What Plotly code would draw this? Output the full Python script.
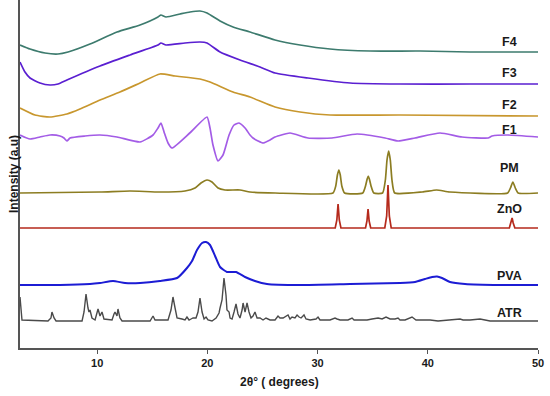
import plotly.graph_objects as go

# ---- data (2theta in degrees, intensity in arbitrary stacked units) ----
f4_x = [3.00, 3.91, 5.27, 6.45, 7.36, 9.35, 11.80, 13.89, 15.52, 15.79, 16.25, 17.52, 18.43, 19.33, 19.97,
        21.15, 22.33, 23.87, 26.14, 28.41, 31.13, 34.76, 39.30, 43.83, 50.00]
f4_y = [303, 299, 295, 294, 296, 304, 316, 323, 331, 333, 331, 334, 336, 337, 335,
        327, 321, 316, 308, 303, 299, 297, 297, 296, 296]

f3_x = [3.00, 3.45, 3.91, 4.81, 5.72, 6.45, 7.26, 10.26, 12.98, 15.52, 15.79, 16.25, 17.97, 19.33, 19.97,
        21.15, 22.96, 24.78, 26.14, 29.13, 32.95, 37.48, 43.83, 50.00]
f3_y = [286, 276, 270, 265, 263, 264, 268, 282, 293, 303, 305, 303, 305, 306, 305,
        296, 288, 281, 275, 270, 265, 264, 264, 264]

f2_x = [3.00, 4.36, 5.72, 7.26, 8.44, 10.26, 12.07, 13.89, 15.70, 17.07, 19.33, 20.24, 22.33, 23.87,
        26.14, 28.41, 31.13, 37.48, 50.00]
f2_y = [240, 233, 231, 234, 239, 248, 256, 265, 274, 272, 269, 266, 256, 251,
        241, 236, 233, 233, 232]

f1_x = [3.00, 3.91, 4.81, 5.72, 6.63, 6.99, 7.26, 7.54, 8.90, 10.26, 11.80, 13.89, 15.07, 15.52, 15.79,
        16.07, 16.43, 16.79, 18.40, 19.97, 20.24, 20.51, 20.97, 21.42, 21.97, 22.42, 22.87, 23.42, 23.87,
        24.14, 24.60, 25.05, 25.69, 26.14, 27.50, 29.13, 31.31, 33.58, 36.12, 37.30, 38.84, 41.11,
        43.11, 45.47, 45.83, 47.28, 50.00]
f1_y = [213, 209, 211, 213, 212, 210, 207, 210, 212, 213, 211, 206, 213, 220, 225,
        216, 205, 200, 215, 231, 220, 203, 187, 193, 213, 223, 225, 220, 213,
        210, 207, 205, 208, 211, 215, 210, 210, 214, 210, 207, 210, 215,
        211, 210, 212, 213, 211]

pm_x = [3.00, 10.26, 12.98, 15.70, 17.97, 18.88, 19.42, 19.97, 20.42, 20.97, 21.60, 22.96, 23.87, 26.14,
        31.40, 31.65, 31.80, 31.93, 32.06, 32.20, 32.45,
        34.10, 34.35, 34.50, 34.60, 34.70, 34.85, 35.10,
        35.90, 36.15, 36.30, 36.45, 36.60, 36.75, 37.00,
        39.50, 40.80, 42.00,
        47.25, 47.50, 47.72, 47.94, 48.20, 50.00]
pm_y = [155, 156, 157, 156, 157, 160, 165, 168, 166, 160, 158, 158, 156, 155,
        155, 162, 173, 178, 173, 162, 155,
        155, 162, 169, 172, 169, 162, 155,
        155, 168, 188, 197, 188, 168, 155,
        156, 158, 156,
        155, 160, 166, 160, 155, 155]

zno_x = [3.00, 31.60, 31.75, 31.86, 31.97, 32.12, 34.35, 34.48, 34.58, 34.68, 34.82,
         36.10, 36.27, 36.39, 36.51, 36.68, 47.40, 47.55, 47.65, 47.75, 47.90, 50.00]
zno_y = [120, 120, 128, 144, 128, 120, 120, 127, 139, 127, 120,
         120, 132, 163, 132, 120, 120, 125, 130, 125, 120, 120]

pva_x = [3.00, 6.63, 9.35, 10.26, 11.44, 12.53, 13.89, 15.70, 17.25, 18.15, 18.61, 19.06, 19.52, 19.88,
         20.24, 20.70, 21.15, 21.78, 22.60, 23.42, 24.32, 25.41, 28.41, 32.95, 37.48, 38.84, 39.75,
         40.39, 40.84, 41.29, 42.02, 43.38, 46.56, 50.00]
pva_y = [63, 63, 64, 65, 67, 65, 65, 67, 70, 80, 87, 98, 105, 106,
         103, 92, 81, 76, 76, 71, 67, 64, 63, 64, 65, 66, 69,
         71, 71.5, 70, 66, 64, 63, 63]

atr_x = [3.00, 3.18, 5.54, 5.81, 5.90, 6.09, 6.27, 8.63, 8.81, 8.99, 9.17, 9.26, 9.35, 9.53, 9.81,
         9.99, 10.08, 10.26, 10.44, 10.62, 11.35, 11.53, 11.62, 11.80, 11.89, 12.07, 12.26, 14.80,
         14.98, 15.07, 15.25, 16.43, 16.70, 16.88, 17.07, 17.25, 17.70, 17.97, 18.15, 18.34, 18.52,
         18.70, 18.97, 19.15, 19.33, 19.52, 19.70, 19.88, 20.06, 20.42, 20.79, 21.06, 21.15, 21.33,
         21.51, 21.69, 21.78, 21.97, 22.06, 22.24, 22.42, 22.60, 22.78, 22.96, 23.15, 23.24, 23.42,
         23.60, 23.78, 23.96, 24.14, 24.32, 24.51, 24.78, 25.05, 25.32, 25.69, 26.14, 26.41, 26.59,
         26.87, 27.05, 27.32, 27.50, 27.68, 27.95, 28.14, 28.32, 28.50, 28.77, 28.95, 29.32, 29.86,
         30.04, 30.22, 31.13, 31.58, 31.77, 32.04, 32.76, 33.13, 33.31, 33.85, 34.49, 34.94, 35.49,
         35.85, 36.21, 36.58, 37.03, 37.30, 37.48, 37.94, 38.57, 38.93, 40.21, 40.93, 42.02, 42.93,
         43.20, 43.83, 44.74, 45.65, 46.56, 50.00]
atr_y = [51, 28, 27, 30, 36, 30, 27, 27, 36, 54, 40, 36, 38, 30, 28,
         36, 39, 32, 36, 29, 28, 34, 36, 32, 39, 30, 27, 27,
         30, 32, 28, 28, 38, 51, 40, 30, 29, 28, 31, 28, 29,
         30, 30, 36, 50, 36, 29, 31, 28, 27, 30, 35, 40, 48,
         70, 53, 38, 36, 30, 29, 36, 44, 34, 30, 38, 45, 36,
         45, 36, 30, 32, 36, 30, 30, 28, 30, 28, 28, 32, 30,
         30, 31, 33, 29, 31, 30, 33, 31, 30, 33, 29, 28, 29,
         31, 28, 28, 30, 29, 28, 28, 30, 28, 28, 28, 29, 30,
         29, 31, 29, 29, 30, 28, 28, 31, 28, 28, 27, 28, 29,
         28, 28, 29, 27, 27, 27]

label_names = ["F4", "F3", "F2", "F1", "PM", "ZnO", "PVA", "ATR"]
label_y = [306.5, 275, 243, 218, 180, 139, 72.5, 35]
label_x = 47.37

x_ticks = [10, 20, 30, 40, 50]

# ---- styling ----
series = [
    ("F4", f4_x, f4_y, "#3d7b6e", "spline", 1.7),
    ("F3", f3_x, f3_y, "#5a1fd1", "spline", 1.7),
    ("F2", f2_x, f2_y, "#c8972e", "spline", 1.7),
    ("F1", f1_x, f1_y, "#a35ce6", "spline", 1.7),
    ("PM", pm_x, pm_y, "#8c7d22", "spline", 1.7),
    ("ZnO", zno_x, zno_y, "#b52a1c", "linear", 1.7),
    ("PVA", pva_x, pva_y, "#1c1cd4", "spline", 2.0),
    ("ATR", atr_x, atr_y, "#4a4a4a", "linear", 1.4),
]

fig = go.Figure()
for name, xs, ys, col, shape, w in series:
    line = dict(color=col, width=w, shape=shape)
    if shape == "spline":
        line["smoothing"] = 0.5
    fig.add_trace(go.Scatter(x=xs, y=ys, mode="lines", name=name, line=line,
                             showlegend=False, hoverinfo="skip"))

bold = dict(family="Liberation Sans, Arial, sans-serif", color="#1a1a1a", weight="bold")

for n, yv in zip(label_names, label_y):
    fig.add_annotation(x=label_x, y=yv, text=n, showarrow=False, xanchor="center", yanchor="middle",
                       font=dict(size=12.5, **bold))

fig.add_annotation(xref="paper", yref="paper", x=0.5, y=-34 / 348, text="2θ° ( degrees)",
                   showarrow=False, xanchor="center", yanchor="middle", font=dict(size=12, **bold))
fig.add_annotation(xref="paper", yref="paper", x=-6 / 518, y=0.5, text="Intensity (a.u)",
                   textangle=-90, showarrow=False, xanchor="center", yanchor="middle",
                   font=dict(size=12, **bold))

fig.update_layout(
    width=550, height=396,
    margin=dict(l=20, r=12, t=0, b=48),
    paper_bgcolor="white", plot_bgcolor="white",
    xaxis=dict(range=[3, 50], tickvals=x_ticks, showgrid=False, zeroline=False,
               showline=True, linecolor="#555555", linewidth=1.5,
               ticks="outside", ticklen=4, tickwidth=1.2, tickcolor="#555555",
               tickfont=dict(size=11, **bold)),
    yaxis=dict(range=[0, 348], showgrid=False, zeroline=False, showticklabels=False,
               showline=True, linecolor="#555555", linewidth=1.5, ticks=""),
)

fig.write_html("out.html", config={"displayModeBar": False},
               post_script="document.body.style.margin='0';document.body.style.padding='0';")
